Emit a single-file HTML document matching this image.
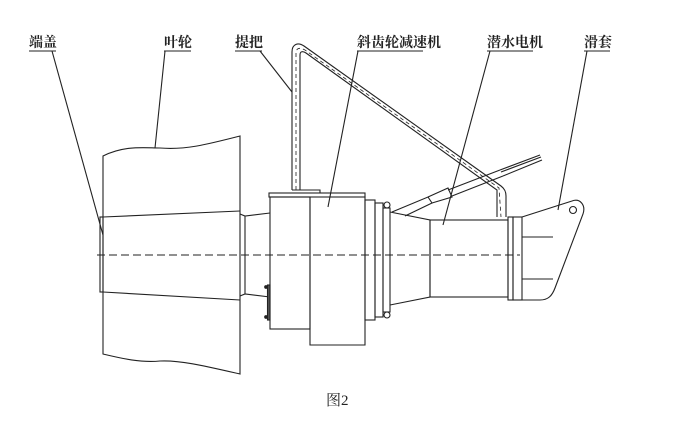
<!DOCTYPE html>
<html><head><meta charset="utf-8"><style>
html,body{margin:0;padding:0;background:#fff;}
svg{display:block;}
text{font-family:"Liberation Serif","Noto Serif CJK SC",serif;font-size:14px;font-weight:bold;fill:#222;}
</style></head><body>
<svg width="680" height="421" viewBox="0 0 680 421" xmlns="http://www.w3.org/2000/svg">
<g fill="none" stroke="#222" stroke-width="1.1">
<line x1="29" y1="51" x2="56" y2="51"/><line x1="52" y1="51" x2="103" y2="235"/>
<line x1="164" y1="51" x2="191" y2="51"/><line x1="165" y1="51" x2="155" y2="148"/>
<line x1="235" y1="51" x2="262" y2="51"/><line x1="260" y1="51" x2="292" y2="92"/>
<line x1="357" y1="51" x2="423" y2="51"/><line x1="358" y1="51" x2="328" y2="207"/>
<line x1="487" y1="51" x2="533" y2="51"/><line x1="490" y1="51" x2="443" y2="225"/>
<line x1="584" y1="51" x2="610" y2="51"/><line x1="587" y1="51" x2="558" y2="210"/>
<path d="M103,156 C125,145 145,148 160,148 C185,150 205,145 240,136 L240,374 C205,366 180,360 160,361 C140,363 120,358 103,354 Z"/>
<line x1="103" y1="217" x2="240" y2="211"/><line x1="103" y1="292" x2="240" y2="300"/>
<rect x="100" y="217" width="3" height="75"/>
<path d="M240,214 L245,216 L270,213 M240,296 L245,294 L270,297 M245,216 L245,294"/>
<rect x="269" y="193" width="96" height="4"/>
<rect x="270" y="197" width="40" height="132"/>
<path d="M310,197 L365,197 L365,345 L310,345 Z"/>
<rect x="267.5" y="285" width="2.5" height="35" fill="#555"/>
<circle cx="266" cy="287" r="1.3" fill="#222"/><circle cx="266" cy="317" r="1.3" fill="#222"/>
<rect x="365" y="200" width="10" height="120"/>
<rect x="375" y="203" width="8" height="114"/>
<rect x="383" y="208" width="7" height="104"/>
<circle cx="387" cy="205" r="3"/><circle cx="387" cy="315" r="3"/>
<path d="M390,212 L430,220 L430,297 L390,305"/>
<rect x="430" y="220" width="78" height="77"/>
<rect x="508" y="217" width="5" height="83"/><rect x="513" y="217" width="9" height="83"/>
<path d="M522,217 L572,201 C580,198 586,205 583,214 L555,288 C552,296 548,300 540,300 L522,300"/>
<circle cx="573" cy="210" r="3.5"/>
<line x1="522" y1="237" x2="553" y2="237"/><line x1="522" y1="279" x2="553" y2="279"/>
<path d="M392,212 L428,197 L432,203 L405,216"/>
<path d="M428,197 L448,188 L452,197 L432,203"/>
<path d="M448,190 L500,170 M452,196 L503,176"/>
<path d="M500,170 L540,155 M503,176 L542,160 M501,172 L541,157"/>
<path d="M292,190 L292,52 C292,44 298,42 304,46 L501,186 C505,189 506,192 506,196 L506,217"/>
<path d="M300,190 L300,55 C300,51 303,51 306,53 L497,190 L497,217"/>
<path d="M296,190 L296,53 C296,48 300,47 305,50 L499,188 L501,217" stroke-dasharray="4 3" stroke-width="0.8"/>
<path d="M292,190 L320,190 L320,193"/>
<line x1="97" y1="255" x2="520" y2="255" stroke-dasharray="8 4" stroke-width="1"/>
</g>
<text x="29" y="47">端盖</text>
<text x="164" y="47">叶轮</text>
<text x="235" y="47">提把</text>
<text x="357" y="47">斜齿轮减速机</text>
<text x="487" y="47">潜水电机</text>
<text x="584" y="47">滑套</text>
<text x="326" y="405" style="font-weight:normal;font-size:15px">图2</text>
</svg>
</body></html>
